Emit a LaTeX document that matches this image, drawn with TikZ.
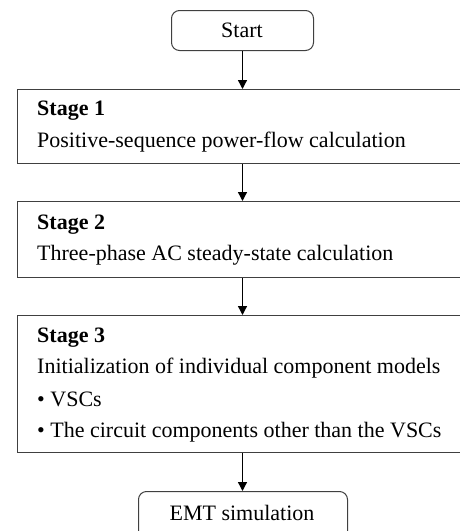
\documentclass[tikz,border=0pt]{standalone}
\usepackage{fontspec}
\setmainfont{Liberation Serif}
\usetikzlibrary{arrows.meta}
\begin{document}
\begin{tikzpicture}[x=1pt,y=-1pt,
  stagebox/.style={draw=black!75,line width=1pt,rectangle,inner sep=0pt,anchor=north west,minimum width=460pt},
  termbox/.style={draw=black!75,line width=1pt,rectangle,rounded corners=8pt,inner sep=0pt,anchor=north west},
  txt/.style={inner sep=0pt,anchor=base west,font=\fontsize{22}{26}\selectfont},
  ctxt/.style={inner sep=0pt,anchor=base,font=\fontsize{22}{26}\selectfont},
  flow/.style={-{Triangle[length=9pt,width=9pt]},line width=1.3pt}]
\useasboundingbox (0,0) rectangle (460,531);
\node[termbox,minimum width=142pt,minimum height=40pt] (start) at (171,10) {};
\node[ctxt] (startt) at (242,37) {Start};
\node[stagebox,minimum height=74pt] (s1) at (16.7,89) {};
\node[txt] (s1a) at (37,115) {\textbf{Stage 1}};
\node[txt] (s1b) at (37,147) {Positive-sequence power-flow calculation};
\node[stagebox,minimum height=76pt] (s2) at (16.7,201) {};
\node[txt] (s2a) at (37,229) {\textbf{Stage 2}};
\node[txt] (s2b) at (37,260) {Three-phase AC steady-state calculation};
\node[stagebox,minimum height=137pt] (s3) at (16.7,315) {};
\node[txt] (s3a) at (37,342) {\textbf{Stage 3}};
\node[txt] (s3b) at (37,373) {Initialization of individual component models};
\node[txt] (s3c) at (37,406) {• VSCs};
\node[txt] (s3d) at (37,437) {• The circuit components other than the VSCs};
\node[termbox,minimum width=209pt,minimum height=60pt] (emt) at (138,491) {};
\node[ctxt] (emtt) at (242,520) {EMT simulation};
\draw[flow] (start.south) -- (start.south |- s1.north);
\draw[flow] (s1.south -| start.south) -- (start.south |- s2.north);
\draw[flow] (s2.south -| start.south) -- (start.south |- s3.north);
\draw[flow] (s3.south -| start.south) -- (start.south |- emt.north);
\end{tikzpicture}
\end{document}
